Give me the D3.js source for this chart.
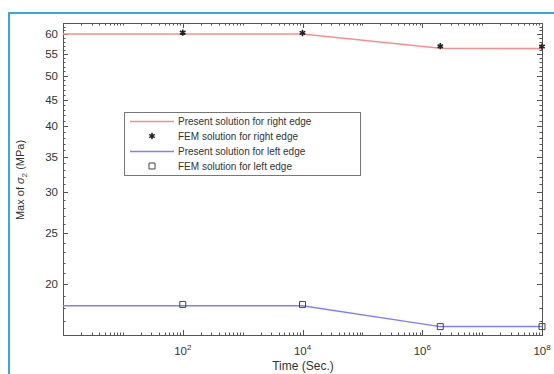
<!DOCTYPE html>
<html>
<head>
<meta charset="utf-8">
<script src="https://cdn.jsdelivr.net/npm/d3@7"></script>
<style>
  body { margin: 0; background: #fff; overflow: hidden; }
  #chart { width: 554px; height: 374px; }
  text { font-family: "Liberation Sans", Arial, sans-serif; fill: #333; }
</style>
</head>
<body>
<div id="chart"></div>
<script>
// Data
var timeSec = [1, 1e2, 1e4, 2e6, 1e8];
var presentRight = [60, 60, 60, 56.4, 56.3];
var presentLeft = [18.2, 18.2, 18.2, 16.6, 16.6];
var femTime = [1e2, 1e4, 2e6, 1e8];
var femRight = [60.4, 60.3, 56.9, 56.8];
var femLeft = [18.3, 18.3, 16.6, 16.6];
var xTickValues = [1e2, 1e4, 1e6, 1e8];
var xTickLabels = ["2", "4", "6", "8"];
var yTickValues = [20, 25, 30, 35, 40, 45, 50, 55, 60];
var legendLabels = ["Present solution for right edge", "FEM solution for right edge",
    "Present solution for left edge", "FEM solution for left edge"];

// SVG
var width = 554, height = 374;
var svg = d3.select("#chart").append("svg")
    .attr("width", width)
    .attr("height", height)
    .style("display", "block");

// blue frame around the figure (only left and top edges are in view)
svg.append("path")
    .attr("d", "M9," + height + "V13H" + width)
    .attr("fill", "none")
    .attr("stroke", "#3aa8e0")
    .attr("stroke-width", 2);

var plot = {left: 63, right: 542, top: 23, bottom: 335};

var x = d3.scaleLog().domain([1, 1e8]).range([plot.left, plot.right]);
var y = d3.scaleLog().domain([16, 63]).range([plot.bottom, plot.top]);

var axisColor = "#555";

// minor ticks
var xMinor = [];
for (var e = 0; e < 8; e++) {
    for (var k = 1; k < 10; k++) {
        xMinor.push(k * Math.pow(10, e));
    }
}
xMinor = xMinor.filter(function (d) { return xTickValues.indexOf(d) < 0 && d > 1; });
var yMinor = d3.range(16, 64).filter(function (d) { return yTickValues.indexOf(d) < 0; });

var ticksG = svg.append("g").attr("stroke", axisColor).attr("stroke-width", 1);

function xTicks(values, len) {
    ticksG.selectAll(null).data(values).enter().append("line")
        .attr("x1", d => Math.round(x(d)) + 0.5).attr("x2", d => Math.round(x(d)) + 0.5)
        .attr("y1", plot.bottom).attr("y2", plot.bottom - len);
    ticksG.selectAll(null).data(values).enter().append("line")
        .attr("x1", d => Math.round(x(d)) + 0.5).attr("x2", d => Math.round(x(d)) + 0.5)
        .attr("y1", plot.top).attr("y2", plot.top + len);
}
function yTicks(values, len) {
    ticksG.selectAll(null).data(values).enter().append("line")
        .attr("y1", d => Math.round(y(d)) + 0.5).attr("y2", d => Math.round(y(d)) + 0.5)
        .attr("x1", plot.left).attr("x2", plot.left + len);
    ticksG.selectAll(null).data(values).enter().append("line")
        .attr("y1", d => Math.round(y(d)) + 0.5).attr("y2", d => Math.round(y(d)) + 0.5)
        .attr("x1", plot.right).attr("x2", plot.right - len);
}
xTicks(xMinor, 2.5);
xTicks(xTickValues, 5);
yTicks(yMinor, 2.5);
yTicks(yTickValues, 5);

// box
svg.append("rect")
    .attr("x", plot.left + 0.5).attr("y", plot.top + 0.5)
    .attr("width", plot.right - plot.left).attr("height", plot.bottom - plot.top)
    .attr("fill", "none")
    .attr("stroke", axisColor);

// tick labels
var xLab = svg.append("g").selectAll("text").data(xTickValues).enter().append("text")
    .attr("x", d => x(d))
    .attr("y", 355)
    .attr("text-anchor", "middle")
    .attr("font-size", 11.5);
xLab.append("tspan").text("10");
xLab.append("tspan").attr("dy", -5).attr("font-size", 8).text((d, i) => xTickLabels[i]);

svg.append("g").selectAll("text").data(yTickValues).enter().append("text")
    .attr("x", plot.left - 5)
    .attr("y", d => y(d) + 4)
    .attr("text-anchor", "end")
    .attr("font-size", 11.5)
    .text(d => d);

// axis titles
svg.append("text")
    .attr("x", 303).attr("y", 370)
    .attr("text-anchor", "middle")
    .attr("font-size", 12)
    .text("Time (Sec.)");

var yTitle = svg.append("text")
    .attr("transform", "translate(24,180) rotate(-90)")
    .attr("text-anchor", "middle")
    .attr("font-size", 11);
yTitle.append("tspan").text("Max of ");
yTitle.append("tspan").attr("font-style", "italic").text("σ");
yTitle.append("tspan").attr("dy", 3).attr("font-size", 8).text("2");
yTitle.append("tspan").attr("dy", -3).text(" (MPa)");

// lines
var line = d3.line()
    .x(d => x(d[0]))
    .y(d => y(d[1]));

var redColor = "#ff8c8c", blueColor = "#7f7fff";

svg.append("path")
    .datum(d3.zip(timeSec, presentRight))
    .attr("d", line)
    .attr("fill", "none")
    .attr("stroke", redColor)
    .attr("stroke-width", 1.5);

svg.append("path")
    .datum(d3.zip(timeSec, presentLeft))
    .attr("d", line)
    .attr("fill", "none")
    .attr("stroke", blueColor)
    .attr("stroke-width", 1.5);

// markers
var star = d3.symbol().type(d3.symbolAsterisk).size(28);
var square = d3.symbol().type(d3.symbolSquare).size(36);

svg.append("g").selectAll("path").data(d3.zip(femTime, femRight)).enter().append("path")
    .attr("d", star)
    .attr("transform", d => "translate(" + x(d[0]) + "," + y(d[1]) + ")")
    .attr("fill", "none")
    .attr("stroke", "#222")
    .attr("stroke-width", 1.6);

svg.append("g").selectAll("path").data(d3.zip(femTime, femLeft)).enter().append("path")
    .attr("d", square)
    .attr("transform", d => "translate(" + x(d[0]) + "," + y(d[1]) + ")")
    .attr("fill", "none")
    .attr("stroke", "#444")
    .attr("stroke-width", 1);

// Legend
var legend = svg.append("g").attr("transform", "translate(124,112)");
legend.append("rect")
    .attr("x", 0.5).attr("y", 0.5)
    .attr("width", 236).attr("height", 63)
    .attr("fill", "#fff")
    .attr("stroke", "#777");

var rowY = [9.5, 24, 39.5, 54];
legendLabels.forEach(function (label, i) {
    var g = legend.append("g").attr("transform", "translate(0," + rowY[i] + ")");
    if (i % 2 === 0) {
        g.append("line")
            .attr("x1", 6).attr("x2", 50)
            .attr("stroke", i === 0 ? redColor : blueColor)
            .attr("stroke-width", 1.5);
    } else if (i === 1) {
        g.append("path").attr("d", star)
            .attr("transform", "translate(28,0)")
            .attr("fill", "none").attr("stroke", "#222").attr("stroke-width", 1.6);
    } else {
        g.append("path").attr("d", square)
            .attr("transform", "translate(28,0)")
            .attr("fill", "none").attr("stroke", "#444");
    }
    g.append("text")
        .attr("x", 54).attr("y", 3.5)
        .attr("font-size", 10)
        .text(label);
});
</script>
</body>
</html>
